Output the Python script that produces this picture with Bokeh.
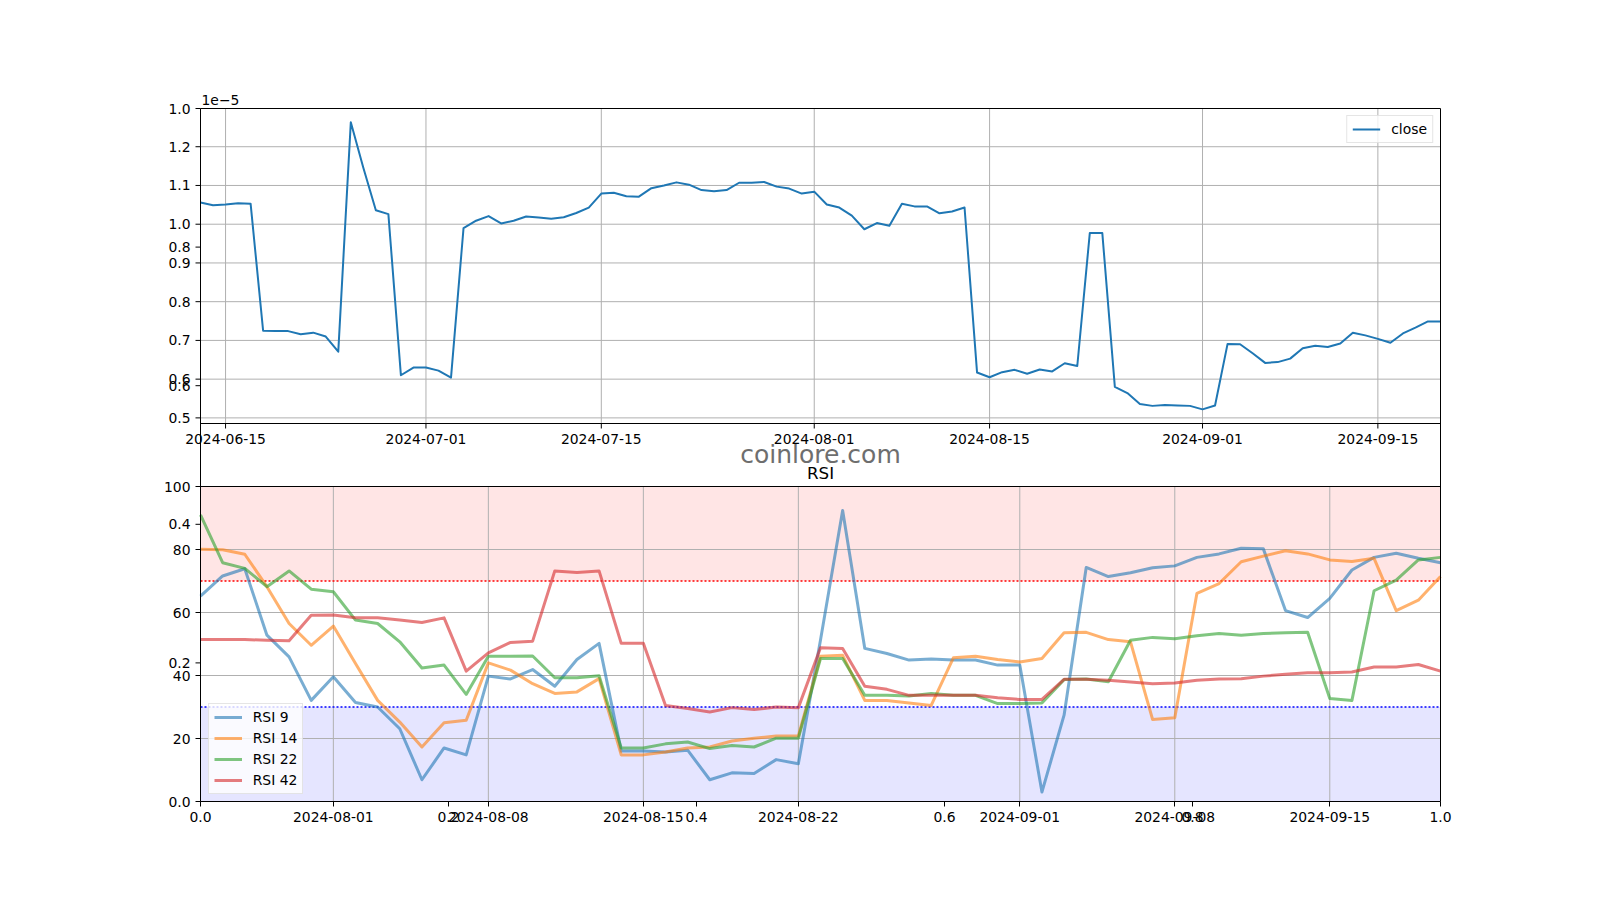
import numpy as np
from datetime import datetime, timedelta
from bokeh.plotting import figure
from bokeh.models import Range1d, FixedTicker, Legend, LegendItem, Label, LabelSet, ColumnDataSource
from bokeh.core.properties import value
from bokeh.embed import file_html
from bokeh.resources import INLINE


def to_dt(s):
    return datetime.strptime(s, "%Y-%m-%d")


# ---------------- data ----------------
close_start = "2024-06-13"
# close price, in units of 1e-5
close_values = [
    1.056, 1.049, 1.051, 1.054, 1.053, 0.725, 0.724, 0.724, 0.716, 0.720,
    0.710, 0.671, 1.263, 1.146, 1.036, 1.026, 0.610, 0.630, 0.630, 0.622,
    0.604, 0.990, 1.009, 1.021, 1.002, 1.009, 1.020, 1.017, 1.014, 1.018,
    1.029, 1.043, 1.079, 1.081, 1.072, 1.071, 1.093, 1.100, 1.108, 1.102,
    1.088, 1.085, 1.088, 1.107, 1.107, 1.109, 1.097, 1.092, 1.079, 1.084,
    1.051, 1.043, 1.022, 0.987, 1.003, 0.996, 1.053, 1.046, 1.046, 1.028,
    1.033, 1.043, 0.617, 0.605, 0.618, 0.624, 0.614, 0.625, 0.620, 0.641,
    0.634, 0.977, 0.977, 0.580, 0.564, 0.536, 0.531, 0.533, 0.532, 0.531,
    0.522, 0.532, 0.691, 0.690, 0.667, 0.642, 0.644, 0.653, 0.680, 0.686,
    0.683, 0.692, 0.720, 0.713, 0.704, 0.694, 0.718, 0.733, 0.749, 0.749,
]
close_dates = [to_dt(close_start) + timedelta(days=i) for i in range(len(close_values))]

rsi_start = "2024-07-26"
rsi9 = [65.2, 71.6, 73.9, 52.8, 45.9, 32.1, 39.6, 31.4, 30.0, 23.1,
        6.9, 17.0, 14.8, 39.8, 38.9, 41.9, 36.6, 45.1, 50.2, 16.0,
        16.0, 15.7, 16.3, 6.9, 9.1, 8.9, 13.3, 12.0, 51.3, 92.4,
        48.6, 47.0, 44.9, 45.2, 44.9, 44.9, 43.3, 43.3, 3.0, 27.4,
        74.3, 71.4, 72.6, 74.2, 74.8, 77.5, 78.6, 80.4, 80.2, 60.6,
        58.4, 64.5, 73.5, 77.5, 78.8, 77.2, 75.8]
rsi14 = [80.1, 79.9, 78.5, 68.2, 56.5, 49.6, 55.7, 43.8, 32.1, 25.2,
         17.3, 25.0, 25.8, 44.0, 41.7, 37.4, 34.3, 34.8, 39.0, 14.8,
         14.8, 15.7, 17.0, 17.3, 19.2, 20.1, 20.8, 20.8, 46.1, 46.4,
         32.1, 32.1, 31.3, 30.5, 45.6, 46.1, 45.1, 44.3, 45.4, 53.6,
         53.7, 51.4, 50.7, 26.0, 26.6, 66.1, 69.2, 76.1, 77.9, 79.6,
         78.6, 76.7, 76.2, 77.2, 60.6, 63.9, 71.4]
rsi22 = [91.0, 75.8, 74.0, 68.2, 73.2, 67.4, 66.6, 57.6, 56.5, 50.7,
         42.4, 43.3, 34.0, 46.1, 46.1, 46.2, 39.3, 39.3, 39.9, 17.0,
         17.0, 18.3, 18.9, 16.8, 17.8, 17.3, 20.1, 20.1, 45.4, 45.4,
         33.7, 33.7, 33.5, 34.3, 33.7, 33.7, 31.1, 31.1, 31.3, 38.7,
         38.9, 38.0, 51.2, 52.1, 51.7, 52.6, 53.3, 52.8, 53.3, 53.6,
         53.7, 32.7, 32.1, 66.9, 70.3, 76.7, 77.5]
rsi42 = [51.4, 51.4, 51.4, 51.2, 51.0, 59.1, 59.2, 58.3, 58.3, 57.6,
         56.8, 58.3, 41.4, 47.2, 50.5, 50.9, 73.2, 72.7, 73.2, 50.2,
         50.2, 30.5, 29.5, 28.4, 29.8, 29.2, 30.0, 29.8, 48.8, 48.6,
         36.6, 35.6, 33.7, 33.7, 33.7, 33.7, 32.9, 32.4, 32.4, 38.8,
         38.8, 38.5, 37.9, 37.4, 37.6, 38.5, 38.9, 39.0, 39.8, 40.4,
         40.9, 40.9, 41.1, 42.7, 42.7, 43.5, 41.4]
rsi_dates = [to_dt(rsi_start) + timedelta(days=i) for i in range(len(rsi9))]
rsi_series = [("RSI 9", rsi9, "#1f77b4"), ("RSI 14", rsi14, "#ff7f0e"),
              ("RSI 22", rsi22, "#2ca02c"), ("RSI 42", rsi42, "#d62728")]
overbought = 70
oversold = 30

# ---------------- axes definitions ----------------
price_ticks = [0.5, 0.6, 0.7, 0.8, 0.9, 1.0, 1.1, 1.2]
price_limits = (0.4855, 1.2987)
top_date_ticks = ["2024-06-15", "2024-07-01", "2024-07-15", "2024-08-01",
                  "2024-08-15", "2024-09-01", "2024-09-15"]
rsi_ticks = [0, 20, 40, 60, 80, 100]
rsi_limits = (0, 100)
bottom_date_ticks = ["2024-08-01", "2024-08-08", "2024-08-15", "2024-08-22",
                     "2024-09-01", "2024-09-08", "2024-09-15"]
frame_ticks = [0.0, 0.2, 0.4, 0.6, 0.8, 1.0]

# ---------------- layout ----------------
TOP_LO = 6 / 11   # top panel occupies [6/11, 1] of the shared axes box
BOT_HI = 5 / 11   # bottom panel occupies [0, 5/11]
BOX_W, BOX_H = 1240, 693          # shared axes box (pixels)
PAD_L, PAD_R, PAD_T, PAD_B = 20, 2, 2, 2   # extra frame room so nothing gets clipped
FONT = "DejaVu Sans"
FS = "13.9px"
GRID = "#b0b0b0"

x0u, x1u = -PAD_L / BOX_W, 1 + PAD_R / BOX_W
y0u, y1u = -PAD_B / BOX_H, 1 + PAD_T / BOX_H

p = figure(frame_width=BOX_W + PAD_L + PAD_R, frame_height=BOX_H + PAD_T + PAD_B,
           min_border_left=200 - PAD_L, min_border_top=108 - PAD_T,
           min_border_right=150, min_border_bottom=91 - PAD_B,
           x_range=Range1d(x0u, x1u), y_range=Range1d(y0u, y1u),
           output_backend="svg", toolbar_location=None)
p.xgrid.visible = False
p.ygrid.visible = False
p.outline_line_color = None
p.background_fill_color = "white"
p.border_fill_color = "white"

# offset text of the price axis
p.title.text = "1e\u22125"
p.title.align = "left"
p.title.offset = PAD_L + 1
p.title.standoff = 4
p.title.text_font = FONT
p.title.text_font_size = FS
p.title.text_font_style = "normal"
p.title.text_color = "black"


def lin(u, a, b, va, vb):
    return va + (u - a) / (b - a) * (vb - va)


price_span = price_limits[1] - price_limits[0]
top_span = close_dates[-1] - close_dates[0]
bot_span = rsi_dates[-1] - rsi_dates[0]
p.extra_y_ranges = {
    "price": Range1d(lin(y0u, TOP_LO, 1, *price_limits), lin(y1u, TOP_LO, 1, *price_limits)),
    "rsi": Range1d(lin(y0u, 0, BOT_HI, *rsi_limits), lin(y1u, 0, BOT_HI, *rsi_limits)),
}
p.extra_x_ranges = {
    "topx": Range1d(close_dates[0] + top_span * x0u, close_dates[0] + top_span * x1u),
    "botx": Range1d(rsi_dates[0] + bot_span * x0u, rsi_dates[0] + bot_span * x1u),
}

# merged left axis (RSI axis, price axis and the figure-level 0..1 axis)
left = {}
for t in rsi_ticks:
    left[lin(t, *rsi_limits, 0, BOT_HI)] = str(t)
for t in price_ticks:
    left[lin(t, *price_limits, TOP_LO, 1)] = f"{t:.1f}"
for t in frame_ticks:
    left[t] = f"{t:.1f}"
left_pos = sorted(left)
p.yaxis.ticker = FixedTicker(ticks=left_pos)
p.yaxis.major_label_overrides = left
p.yaxis.major_tick_line_color = None
p.yaxis.major_tick_out = 0
p.yaxis.major_tick_in = 0
p.yaxis.major_label_standoff = -(PAD_L - 10)

# merged bottom axis (RSI dates and the 0..1 axis)
bottom = {}
for t in frame_ticks:
    bottom[t] = f"{t:.1f}"
for s in bottom_date_ticks:
    bottom[(to_dt(s) - rsi_dates[0]) / bot_span] = s
p.xaxis.ticker = FixedTicker(ticks=sorted(bottom))
p.xaxis.major_label_overrides = bottom
p.xaxis.major_tick_line_color = "black"
p.xaxis.major_tick_out = 5 - PAD_B
p.xaxis.major_tick_in = PAD_B
p.xaxis.major_label_standoff = 5

for ax in (p.xaxis, p.yaxis):
    ax.major_label_text_font = FONT
    ax.major_label_text_font_size = FS
    ax.major_label_text_color = "black"
    ax.minor_tick_out = 0
    ax.minor_tick_in = 0
    ax.axis_line_color = None

# ---------------- bottom panel (RSI) ----------------
p.quad(left=[rsi_dates[0]], right=[rsi_dates[-1]], bottom=[overbought], top=[rsi_limits[1]],
       x_range_name="botx", y_range_name="rsi", fill_color="red", fill_alpha=0.1, line_color=None)
p.quad(left=[rsi_dates[0]], right=[rsi_dates[-1]], bottom=[rsi_limits[0]], top=[oversold],
       x_range_name="botx", y_range_name="rsi", fill_color="blue", fill_alpha=0.1, line_color=None)
bd = [to_dt(s) for s in bottom_date_ticks]
p.segment(x0=bd, y0=[rsi_limits[0]] * len(bd), x1=bd, y1=[rsi_limits[1]] * len(bd),
          x_range_name="botx", y_range_name="rsi", line_color=GRID, line_width=1)
p.segment(x0=[rsi_dates[0]] * len(rsi_ticks), y0=rsi_ticks, x1=[rsi_dates[-1]] * len(rsi_ticks), y1=rsi_ticks,
          x_range_name="botx", y_range_name="rsi", line_color=GRID, line_width=1)
p.segment(x0=[rsi_dates[0]], y0=[overbought], x1=[rsi_dates[-1]], y1=[overbought],
          x_range_name="botx", y_range_name="rsi", line_color="red", line_width=1.4, line_dash="2 2")
p.segment(x0=[rsi_dates[0]], y0=[oversold], x1=[rsi_dates[-1]], y1=[oversold],
          x_range_name="botx", y_range_name="rsi", line_color="blue", line_width=1.4, line_dash="2 2")

rsi_items = []
for name, vals, col in rsi_series:
    r = p.line(rsi_dates, vals, x_range_name="botx", y_range_name="rsi",
               line_color=col, line_alpha=0.6, line_width=3, line_join="round")
    rsi_items.append(LegendItem(label=name, renderers=[r]))

# ---------------- top panel (close) ----------------
td = [to_dt(s) for s in top_date_ticks]
p.segment(x0=td, y0=[price_limits[0]] * len(td), x1=td, y1=[price_limits[1]] * len(td),
          x_range_name="topx", y_range_name="price", line_color=GRID, line_width=1)
p.segment(x0=[close_dates[0]] * len(price_ticks), y0=price_ticks,
          x1=[close_dates[-1]] * len(price_ticks), y1=price_ticks,
          x_range_name="topx", y_range_name="price", line_color=GRID, line_width=1)
r_close = p.line(close_dates, close_values, x_range_name="topx", y_range_name="price",
                 line_color="#1f77b4", line_width=2, line_join="round")

# ---------------- spines and ticks ----------------
hy = [0, BOT_HI, TOP_LO, 1]
p.segment(x0=[0] * 4, y0=hy, x1=[1] * 4, y1=hy, line_color="black", line_width=1)
p.segment(x0=[0, 1], y0=[0, 0], x1=[0, 1], y1=[1, 1], line_color="black", line_width=1)
p.ray(x=[0] * len(left_pos), y=left_pos, length=5, length_units="screen", angle=np.pi,
      line_color="black", line_width=1)
p.ray(x=td, y=[price_limits[0]] * len(td), length=5, length_units="screen", angle=-np.pi / 2,
      x_range_name="topx", y_range_name="price", line_color="black", line_width=1)
src = ColumnDataSource(dict(x=td, y=[price_limits[0]] * len(td), text=top_date_ticks))
p.add_layout(LabelSet(x="x", y="y", text="text", source=src, x_range_name="topx", y_range_name="price",
                      y_offset=-10, text_align="center", text_baseline="top",
                      text_font=value(FONT), text_font_size=FS, text_color="black"))

# texts
p.add_layout(Label(x=0.5, y=BOT_HI, y_offset=13.5, text="RSI", text_align="center",
                   text_baseline="alphabetic", text_font=FONT, text_font_size="16.7px", text_color="black"))
p.add_layout(Label(x=0.5, y=0.5, y_offset=1, text="coinlore.com", text_align="center",
                   text_baseline="alphabetic", text_font=FONT, text_font_size="25px", text_color="#6e6e6e"))

# legends
legend_style = dict(label_text_font=FONT, label_text_font_size=FS, label_text_color="black",
                    glyph_width=28, glyph_height=14, label_height=14, label_standoff=11,
                    padding=5, spacing=5,
                    border_line_color="#cccccc", border_line_width=1,
                    background_fill_color="white", background_fill_alpha=0.8)
p.add_layout(Legend(items=[LegendItem(label="close", renderers=[r_close])],
                    location="top_right", margin=PAD_R + 7, **legend_style))
p.add_layout(Legend(items=rsi_items, location=(PAD_L + 7.7, PAD_B + 7), margin=0, **legend_style))

open("out.html", "w").write(file_html(p, INLINE))
